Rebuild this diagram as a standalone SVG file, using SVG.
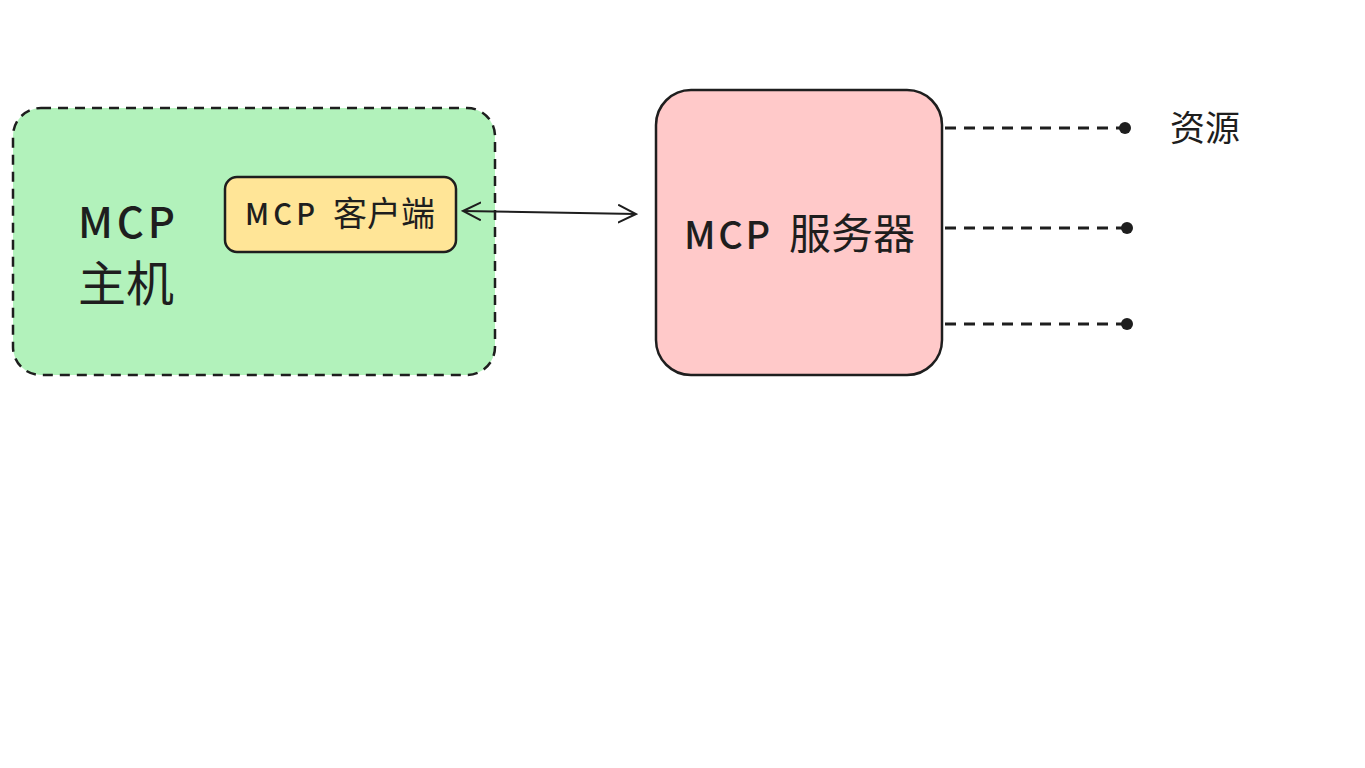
<svg xmlns="http://www.w3.org/2000/svg" width="1365" height="768" viewBox="0 0 1365 768">
<defs>
<style>
.box{stroke:#1e1e1e;stroke-width:2.5}
.t{font-family:"Noto Sans CJK SC","Noto Sans",sans-serif;fill:#1e1e1e}
.dash{stroke:#1e1e1e;stroke-width:3;stroke-dasharray:11 8;fill:none}
</style>
<marker id="open" viewBox="0 0 20 20" refX="18" refY="10" markerWidth="20" markerHeight="20" markerUnits="userSpaceOnUse" orient="auto-start-reverse">
<path d="M0,1 L18,10 L0,19" fill="none" stroke="#1e1e1e" stroke-width="2"/>
</marker>
<marker id="dot" viewBox="0 0 14 14" refX="7" refY="7" markerWidth="14" markerHeight="14" markerUnits="userSpaceOnUse">
<circle cx="7" cy="7" r="6" fill="#1e1e1e"/>
</marker>
</defs>
<rect width="1365" height="768" fill="#ffffff"/>
<g id="host">
<rect class="box" x="13" y="108" width="482" height="267" rx="28" fill="#b2f2bb" stroke-dasharray="10 7"/>
<text class="t" x="78" y="238" font-size="42" font-weight="500" textLength="97" lengthAdjust="spacing">MCP</text>
<text class="t" x="78" y="301" font-size="48">主机</text>
</g>
<g id="client">
<rect class="box" x="225" y="177" width="231" height="75" rx="12" fill="#ffe597" stroke-width="2"/>
<text class="t" x="245" y="225" font-size="29" font-weight="500" textLength="70" lengthAdjust="spacing">MCP</text>
<text class="t" x="333" y="226" font-size="34">客户端</text>
</g>
<g id="server">
<rect class="box" x="656" y="90" width="286" height="285" rx="35" fill="#ffc9c9"/>
<text class="t" x="684" y="249" font-size="38" font-weight="500" textLength="86" lengthAdjust="spacing">MCP</text>
<text class="t" x="789" y="249" font-size="42">服务器</text>
</g>
<g id="resource-label">
<text class="t" x="1170" y="141" font-size="35">资源</text>
</g>
<g id="connectors">
<line x1="463" y1="211" x2="636" y2="214" stroke="#1e1e1e" stroke-width="2" marker-start="url(#open)" marker-end="url(#open)"/>
<line class="dash" x1="945" y1="128" x2="1125" y2="128" marker-end="url(#dot)"/>
<line class="dash" x1="945" y1="228" x2="1127" y2="228" marker-end="url(#dot)"/>
<line class="dash" x1="945" y1="324" x2="1127" y2="324" marker-end="url(#dot)"/>
</g>
</svg>
